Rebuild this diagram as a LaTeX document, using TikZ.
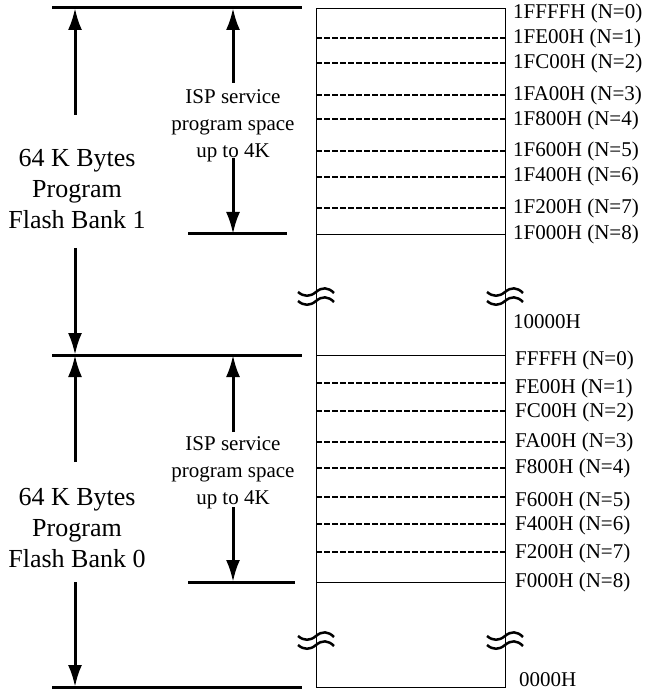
\documentclass[tikz,border=0pt]{standalone}
\usepackage{fontspec}
\setmainfont{Liberation Serif}
\usetikzlibrary{arrows.meta}
\begin{document}
\begin{tikzpicture}[x=1pt,y=-1pt,
  bar/.style={line width=3pt},
  span/.style={line width=3pt,-{Latex[length=22pt,width=14pt]}},
  cell/.style={line width=0.9pt},
  part/.style={line width=1.2pt,dash pattern=on 5.5pt off 2.5pt},
  addr/.style={anchor=west,inner sep=0pt,font=\fontsize{21}{25}\selectfont},
  brk/.pic={\draw[line width=2.5pt] (-18,-4) .. controls (-12,1) and (-6,1) .. (0,-4) .. controls (6,-9) and (12,-9) .. (18,-3);
            \draw[line width=2.5pt] (-18,5) .. controls (-12,10) and (-6,10) .. (0,5) .. controls (6,0) and (12,0) .. (18,6);}]
\useasboundingbox (0,0) rectangle (644,692);

% memory column
\draw[cell] (316,8) rectangle (505,687);
\draw[cell] (316,234) -- (505,234);
\draw[cell] (316,355) -- (505,355);
\draw[cell] (316,582) -- (505,582);

% bank 1 sectors
\draw[part] (316,38) -- (505,38);
\draw[part] (316,63) -- (505,63);
\draw[part] (316,95) -- (505,95);
\draw[part] (316,119) -- (505,119);
\draw[part] (316,151) -- (505,151);
\draw[part] (316,177) -- (505,177);
\draw[part] (316,208) -- (505,208);

% bank 0 sectors
\draw[part] (316,383) -- (505,383);
\draw[part] (316,411) -- (505,411);
\draw[part] (316,442) -- (505,442);
\draw[part] (316,468) -- (505,468);
\draw[part] (316,497) -- (505,497);
\draw[part] (316,524) -- (505,524);
\draw[part] (316,552) -- (505,552);

% breaks
\pic at (316,296) {brk};
\pic at (505,296) {brk};
\pic at (316,640) {brk};
\pic at (505,640) {brk};

% bounds
\draw[bar] (52,8) -- (302,8);
\draw[bar] (52,355) -- (302,355);
\draw[bar] (52,687) -- (302,687);
\draw[bar] (188,234) -- (287,234);
\draw[bar] (188,582) -- (295,582);

% bank texts
\node[align=center,font=\fontsize{26}{31}\selectfont] (bank1) at (77,189) {64 K Bytes\\Program\\Flash Bank 1};
\node[align=center,font=\fontsize{26}{31}\selectfont] (bank0) at (77,528) {64 K Bytes\\Program\\Flash Bank 0};
\node[align=center,font=\fontsize{21}{27}\selectfont] (isp1) at (233,126) {ISP service\\program space\\up to 4K};
\node[align=center,font=\fontsize{21}{27}\selectfont] (isp0) at (233,473) {ISP service\\program space\\up to 4K};

% spans
\draw[span] (75,115) -- (75,8);
\draw[span] (75,248) -- (75,355);
\draw[span] (75,462) -- (75,355);
\draw[span] (75,582) -- (75,687);
\draw[span] (233,83) -- (233,8);
\draw[span] (233,158) -- (233,234);
\draw[span] (233,432) -- (233,355);
\draw[span] (233,507) -- (233,582);

% addresses
\node[addr] (h1ffff) at (513,13) {1FFFFH (N=0)};
\node[addr] (h1fe00) at (513,38) {1FE00H (N=1)};
\node[addr] (h1fc00) at (513,63) {1FC00H (N=2)};
\node[addr] (h1fa00) at (513,95) {1FA00H (N=3)};
\node[addr] (h1f800) at (513,120) {1F800H (N=4)};
\node[addr] (h1f600) at (513,151) {1F600H (N=5)};
\node[addr] (h1f400) at (513,176) {1F400H (N=6)};
\node[addr] (h1f200) at (513,208) {1F200H (N=7)};
\node[addr] (h1f000) at (513,234) {1F000H (N=8)};
\node[addr] (h10000) at (513,322) {10000H};
\node[addr] (hffff) at (515,360) {FFFFH (N=0)};
\node[addr] (hfe00) at (515,388) {FE00H (N=1)};
\node[addr] (hfc00) at (515,412) {FC00H (N=2)};
\node[addr] (hfa00) at (515,442) {FA00H (N=3)};
\node[addr] (hf800) at (515,468) {F800H (N=4)};
\node[addr] (hf600) at (515,501) {F600H (N=5)};
\node[addr] (hf400) at (515,525) {F400H (N=6)};
\node[addr] (hf200) at (515,553) {F200H (N=7)};
\node[addr] (hf000) at (515,582) {F000H (N=8)};
\node[addr] (h0000) at (519,680) {0000H};
\end{tikzpicture}
\end{document}
